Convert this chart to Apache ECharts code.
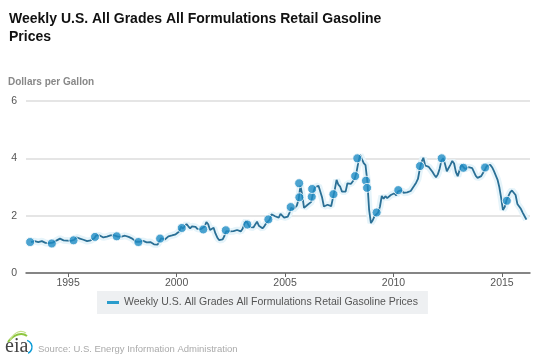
<!DOCTYPE html>
<html>
<head>
<meta charset="utf-8">
<script src="https://cdn.jsdelivr.net/npm/echarts@6/dist/echarts.min.js"></script>
<style>html,body{margin:0;padding:0;background:#fff;}#c{width:540px;height:360px;}</style>
</head>
<body>
<div id="c"></div>
<script>
// Monthly averages, starting April 1993
const firstYear = 1993;
const firstMonthIndex = 3; // April
const prices = [
  1.08,1.10,1.11,1.09,1.08,1.09,1.11,1.09,1.05,
  1.03,1.04,1.05,1.06,1.09,1.13,1.16,1.20,1.17,1.14,1.16,1.13,
  1.13,1.12,1.12,1.16,1.24,1.25,1.20,1.17,1.16,1.14,1.11,1.12,
  1.14,1.16,1.21,1.31,1.36,1.31,1.27,1.24,1.25,1.27,1.31,1.31,
  1.31,1.31,1.27,1.27,1.28,1.27,1.24,1.30,1.30,1.26,1.24,1.20,
  1.14,1.09,1.07,1.09,1.12,1.12,1.10,1.07,1.06,1.08,1.05,1.00,
  1.00,0.99,1.05,1.21,1.20,1.17,1.22,1.28,1.31,1.31,1.33,1.35,
  1.36,1.45,1.62,1.55,1.58,1.71,1.63,1.56,1.63,1.62,1.61,1.54,
  1.52,1.53,1.49,1.62,1.78,1.70,1.50,1.46,1.58,1.38,1.24,1.15,
  1.16,1.17,1.30,1.46,1.47,1.45,1.46,1.46,1.46,1.50,1.50,1.45,
  1.54,1.72,1.82,1.71,1.60,1.57,1.59,1.69,1.79,1.65,1.59,1.56,
  1.63,1.73,1.79,1.86,2.05,2.06,1.98,1.94,1.93,2.06,2.06,1.93,
  1.88,1.97,2.11,2.28,2.21,2.20,2.35,2.56,3.05,2.72,2.27,2.24,
  2.38,2.37,2.48,2.80,2.99,2.97,3.04,3.03,2.63,2.32,2.30,2.38,
  2.32,2.33,2.62,2.91,3.25,3.08,3.01,2.84,2.86,2.84,3.13,3.08,
  3.11,3.08,3.29,3.51,3.85,4.12,4.16,3.83,3.76,3.20,2.20,1.74,
  1.84,1.98,2.01,2.11,2.32,2.69,2.59,2.68,2.61,2.61,2.72,2.67,
  2.78,2.71,2.85,2.91,2.89,2.80,2.79,2.81,2.78,2.86,2.96,3.05,
  3.15,3.28,3.62,3.88,4.02,3.75,3.72,3.70,3.68,3.53,3.43,3.34,
  3.44,3.64,3.92,4.00,3.79,3.55,3.50,3.78,3.91,3.82,3.52,3.38,
  3.39,3.78,3.81,3.63,3.67,3.69,3.66,3.66,3.62,3.39,3.32,3.37,
  3.38,3.43,3.60,3.73,3.74,3.77,3.69,3.56,3.50,3.26,3.00,2.63,
  2.20,2.30,2.54,2.55,2.81,2.88,2.86,2.72,2.41,2.35,2.23,2.10,
  1.98,1.86
];
// Highlighted markers (decimal year, price)
const markerYears = [1993.25,1994.25,1995.25,1996.24,1997.24,1998.24,1999.24,2000.24,2001.23,2002.27,2003.26,2004.23,
  2005.26,2005.65,2005.66,2006.23,2006.25,2007.23,2008.23,2008.33,2008.73,2008.78,2009.22,2010.22,2011.22,2012.22,2013.22,2014.22,2015.22];
const markerPrices = [1.08,1.03,1.14,1.26,1.28,1.08,1.20,1.57,1.52,1.49,1.69,1.87,
  2.30,3.13,2.64,2.66,2.93,2.75,3.38,4.00,3.22,2.97,2.11,2.89,3.73,4.00,3.67,3.68,2.52];
const xTickYears = [1995, 2000, 2005, 2010, 2015];
const yTicks = [0, 2, 4, 6];
const seriesName = 'Weekly U.S. All Grades All Formulations Retail Gasoline Prices';

const lineData = prices.map((p, i) => [firstYear + (firstMonthIndex + i + 0.5) / 12, p]);
const markerData = markerYears.map((y, i) => [y, markerPrices[i]]);
const FONT = 'Liberation Sans, Arial, sans-serif';

const chart = echarts.init(document.getElementById('c'), null, {renderer: 'canvas'});
chart.setOption({
  backgroundColor: '#fff',
  animation: false,
  title: [
    {text: 'Weekly U.S. All Grades All Formulations Retail Gasoline\nPrices', left: 4, top: 5,
     textStyle: {fontFamily: FONT, fontSize: 14, fontWeight: 'bold', color: '#111', lineHeight: 18}},
    {text: 'Dollars per Gallon', left: 3, top: 72,
     textStyle: {fontFamily: FONT, fontSize: 10, fontWeight: 'bold', color: '#888'}},
    {text: 'Source: U.S. Energy Information Administration', left: 33, top: 339,
     textStyle: {fontFamily: FONT, fontSize: 9.5, fontWeight: 'normal', color: '#aaa'}}
  ],
  grid: {left: 26, right: 10, top: 101, bottom: 87},
  xAxis: {
    type: 'value', min: 1993.06, max: 2016.29,
    axisLine: {show: true, lineStyle: {color: '#666', width: 1.5}},
    axisTick: {show: true, customValues: xTickYears, length: 4, lineStyle: {color: '#666'}},
    axisLabel: {customValues: xTickYears, formatter: v => String(v), color: '#555', fontSize: 10.5, fontFamily: FONT, margin: 5},
    splitLine: {show: false}
  },
  yAxis: {
    type: 'value', min: 0, max: 6, interval: 2,
    axisLine: {show: false}, axisTick: {show: false},
    axisLabel: {color: '#555', fontSize: 10.5, fontFamily: FONT, margin: 9},
    splitLine: {lineStyle: {color: '#ddd', width: 1.5}}
  },
  legend: {
    data: [{name: seriesName, icon: 'rect'}],
    left: 97, top: 291, width: 330,
    backgroundColor: '#eef0f2', padding: [6, 10, 6, 10],
    itemWidth: 12, itemHeight: 3, itemGap: 6,
    textStyle: {color: '#555', fontSize: 10.5, fontFamily: FONT}
  },
  series: [
    {name: 'glow', type: 'line', data: lineData, showSymbol: false, silent: true,
     lineStyle: {color: '#e6f4fa', width: 7}, z: 1},
    {name: seriesName, type: 'line', data: lineData, showSymbol: false,
     color: '#2a9ccc', lineStyle: {color: '#2a6f95', width: 1.8}, z: 2},
    {name: 'markers', type: 'scatter', data: markerData, symbolSize: 9,
     itemStyle: {color: '#1f8cc4', borderColor: '#fff', borderWidth: 1}, z: 3}
  ],
  graphic: [
    {type: 'text', left: 5, top: 337, style: {text: 'eia', font: '20px "Liberation Serif", "DejaVu Serif", serif', fill: '#444'}},
    {type: 'bezierCurve', shape: {x1: 8, y1: 342, x2: 27, y2: 336, cpx1: 14, cpy1: 334, cpx2: 22, cpy2: 332}, style: {stroke: '#8dc63f', lineWidth: 2, fill: null}},
    {type: 'bezierCurve', shape: {x1: 10, y1: 340, x2: 26, y2: 333, cpx1: 15, cpy1: 331, cpx2: 21, cpy2: 330}, style: {stroke: '#c5e08a', lineWidth: 1.2, fill: null}},
    {type: 'arc', shape: {cx: 25, cy: 347, r: 7, startAngle: -Math.PI * 0.4, endAngle: Math.PI * 0.35}, style: {stroke: '#0a9bd7', lineWidth: 1.5, fill: null}}
  ]
});
</script>
</body>
</html>
